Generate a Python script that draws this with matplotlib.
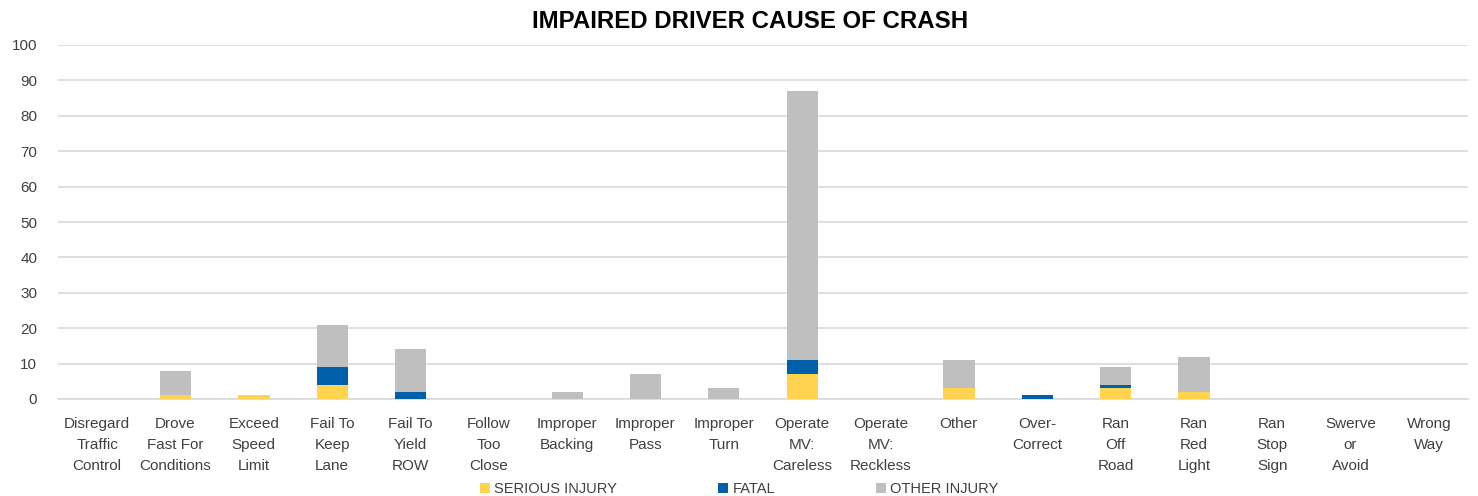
import matplotlib
matplotlib.use("Agg")
import matplotlib.pyplot as plt
import numpy as np

categories = ["Disregard\nTraffic\nControl", "Drove\nFast For\nConditions", "Exceed\nSpeed\nLimit",
              "Fail To\nKeep\nLane", "Fail To\nYield\nROW", "Follow\nToo\nClose", "Improper\nBacking",
              "Improper\nPass", "Improper\nTurn", "Operate\nMV:\nCareless", "Operate\nMV:\nReckless",
              "Other", "Over-\nCorrect", "Ran\nOff\nRoad", "Ran\nRed\nLight", "Ran\nStop\nSign",
              "Swerve\nor\nAvoid", "Wrong\nWay"]
serious = [0, 1, 1, 4, 0, 0, 0, 0, 0, 7, 0, 3, 0, 3, 2, 0, 0, 0]
fatal   = [0, 0, 0, 5, 2, 0, 0, 0, 0, 4, 0, 0, 1, 1, 0, 0, 0, 0]
other   = [0, 7, 0, 12, 12, 0, 2, 7, 3, 76, 0, 8, 0, 5, 10, 0, 0, 0]
yticks = list(range(0, 101, 10))

plt.rcParams['font.family'] = ['Liberation Sans', 'DejaVu Sans']

fig = plt.figure(figsize=(14.78, 4.96), dpi=100)
ax = fig.add_axes([58/1478, 1 - 399/496, 1410/1478, 354/496])

x = np.arange(len(categories))
s = np.array(serious); f = np.array(fatal); o = np.array(other)
w = 0.4
ax.bar(x, s, w, color="#FFD34F", label="SERIOUS INJURY", zorder=3)
ax.bar(x, f, w, bottom=s, color="#0061AA", label="FATAL", zorder=3)
ax.bar(x, o, w, bottom=s + f, color="#BFBFBF", label="OTHER INJURY", zorder=3)

ax.set_xlim(-0.5, len(categories) - 0.5)
ax.set_ylim(0, 100)
ax.set_yticks(yticks)
ax.set_xticks(x)
ax.set_xticklabels(categories, fontsize=11, color="#404040", linespacing=1.62)
ax.tick_params(axis='y', labelsize=11, colors="#404040", length=0, pad=15)
ax.tick_params(axis='x', length=0, pad=13)
ax.grid(axis='y', color="#D9D9D9", linewidth=1.2, zorder=0)
for sp in ['top', 'right', 'left']:
    ax.spines[sp].set_visible(False)
ax.spines['bottom'].set_color("#D9D9D9")
ax.spines['bottom'].set_linewidth(1.2)

fig.text(750/1478, 1 - 21/496, "IMPAIRED DRIVER CAUSE OF CRASH", ha='center', va='center',
         fontsize=17.3, fontweight='bold', color="#000000")

leg = fig.legend(loc='lower center', bbox_to_anchor=(0.5, -0.026), ncol=3, frameon=False,
                 fontsize=10.5, handlelength=0.7, handleheight=0.7, columnspacing=6.9,
                 handletextpad=0.3)
for t in leg.get_texts():
    t.set_color("#404040")

fig.savefig("out.png", dpi=100)
